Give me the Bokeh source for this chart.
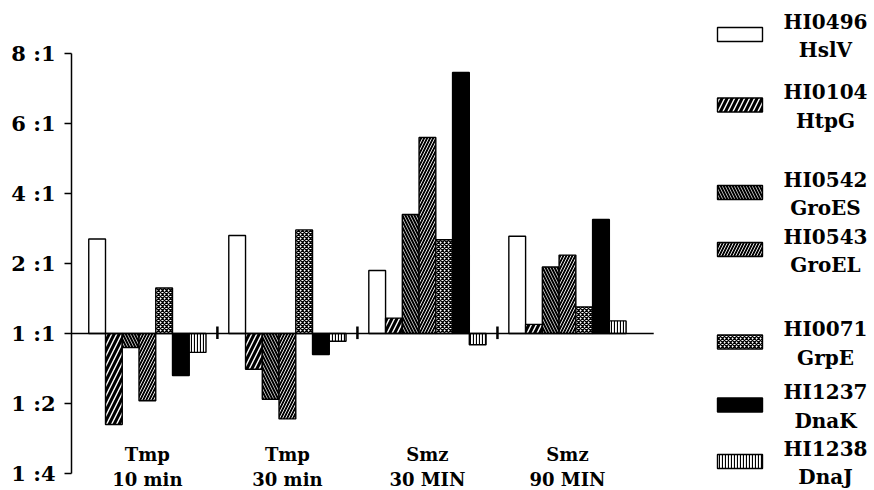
from bokeh.plotting import figure
from bokeh.models import Range1d, FixedTicker, ColumnDataSource
from bokeh.embed import file_html
from bokeh.resources import INLINE
from bokeh.core.properties import value

# ---------------- data ----------------
groups = ["Tmp\n10 min", "Tmp\n30 min", "Smz\n30 MIN", "Smz\n90 MIN"]
genes = ["HI0496\nHslV", "HI0104\nHtpG", "HI0542\nGroES", "HI0543\nGroEL",
         "HI0071\nGrpE", "HI1237\nDnaK", "HI1238\nDnaJ"]
tick_vals = [-2, -1, 0, 1, 2, 3, 4]
tick_labels = ["1 :4", "1 :2", "1 :1", "2 :1", "4 :1", "6 :1", "8 :1"]

hslv = [1.35, 1.40, 0.90, 1.39]
htpg = [-1.30, -0.51, 0.22, 0.13]
groes = [-0.20, -0.94, 1.70, 0.95]
groel = [-0.96, -1.22, 2.80, 1.12]
grpe = [0.65, 1.48, 1.34, 0.38]
dnak = [-0.60, -0.30, 3.73, 1.63]
dnaj = [-0.27, -0.11, -0.16, 0.18]
series = [hslv, htpg, groes, groel, grpe, dnak, dnaj]

# ---------------- styles ----------------
styles = [
    dict(fill_color="white"),
    dict(fill_color="black", hatch_pattern="/", hatch_color="white", hatch_scale=10, hatch_weight=1.4),
    dict(fill_color="black", hatch_pattern="\\", hatch_color="white", hatch_scale=6, hatch_weight=0.7),
    dict(fill_color="black", hatch_pattern="/", hatch_color="white", hatch_scale=6, hatch_weight=0.9),
    dict(fill_color="white", hatch_pattern="x", hatch_color="black", hatch_scale=4, hatch_weight=1.3),
    dict(fill_color="black"),
    dict(fill_color="white", hatch_pattern="|", hatch_color="black", hatch_scale=3, hatch_weight=1.2),
]

FONT = "DejaVu Serif"
W, H = 874, 490
BL = 71                     # left border (axis position)
PX_X = 16.75                # px per x unit
PX_Y = 70.0                 # px per y unit
ZERO_Y = 333                # px of y=0
x_end = (W - BL) / PX_X
y_top = ZERO_Y / PX_Y
y_bot = -(H - ZERO_Y) / PX_Y

def px2x(px):
    return (px - BL) / PX_X

def px2y(py):
    return (ZERO_Y - py) / PX_Y

p = figure(width=W, height=H, output_backend="svg", toolbar_location=None,
           x_range=Range1d(0, x_end), y_range=Range1d(y_bot, y_top),
           x_axis_location=None, min_border_left=BL, min_border_right=0,
           min_border_top=0, min_border_bottom=0, background_fill_color="white",
           border_fill_color="white", outline_line_color=None)
p.grid.visible = False

ax = p.yaxis[0]
ax.ticker = FixedTicker(ticks=tick_vals)
ax.major_label_overrides = {v: s for v, s in zip(tick_vals, tick_labels)}
ax.bounds = (min(tick_vals), max(tick_vals))
ax.minor_tick_line_color = None
ax.major_tick_in = 0
ax.major_tick_out = 7
ax.major_tick_line_width = 1.5
ax.axis_line_width = 1.5
ax.major_label_standoff = 9
ax.major_label_text_font = FONT
ax.major_label_text_font_style = "bold"
ax.major_label_text_font_size = "21px"
ax.major_label_text_color = "black"

# group layout
first = 1.03
period = 8.36
nb = len(series)
starts = [first + g * period for g in range(len(groups))]

for i, (vals, st) in enumerate(zip(series, styles)):
    src = ColumnDataSource(dict(x=[s + i + 0.5 for s in starts], top=vals))
    p.vbar(x="x", top="top", bottom=0, width=1, source=src,
           line_color="black", line_width=1.4, **st)

# baseline and separators
base_end = starts[-1] + nb + 1.65
p.segment(x0=[0], y0=[0], x1=[base_end], y1=[0], line_color="black", line_width=1.6)
seps = [s + nb + (period - nb) / 2 for s in starts[:-1]]
p.segment(x0=seps, y0=[0.1] * len(seps), x1=seps, y1=[-0.08] * len(seps),
          line_color="black", line_width=2.5)

# category labels
p.text(x=[s + nb / 2 for s in starts], y=[px2y(443)] * len(groups), text=groups,
       text_font=value(FONT), text_font_style="bold", text_font_size="18px",
       text_align="center", text_baseline="top", text_line_height=1.2,
       text_color="black")

# legend (manual, to follow the irregular spacing)
leg_y = [34, 104.5, 192, 249, 341.5, 404.5, 461]
box_x = px2x(739.5)
for i, st in enumerate(styles):
    p.rect(x=[box_x], y=[px2y(leg_y[i])], width=45, height=14,
           width_units="screen", height_units="screen",
           line_color="black", line_width=1.4, **st)
p.text(x=[px2x(825)] * nb, y=[px2y(v + 1.5) for v in leg_y], text=genes,
       text_font=value(FONT), text_font_style="bold", text_font_size="20px",
       text_align="center", text_baseline="middle", text_line_height=1.2,
       text_color="black")

open("out.html", "w").write(file_html(p, INLINE))
